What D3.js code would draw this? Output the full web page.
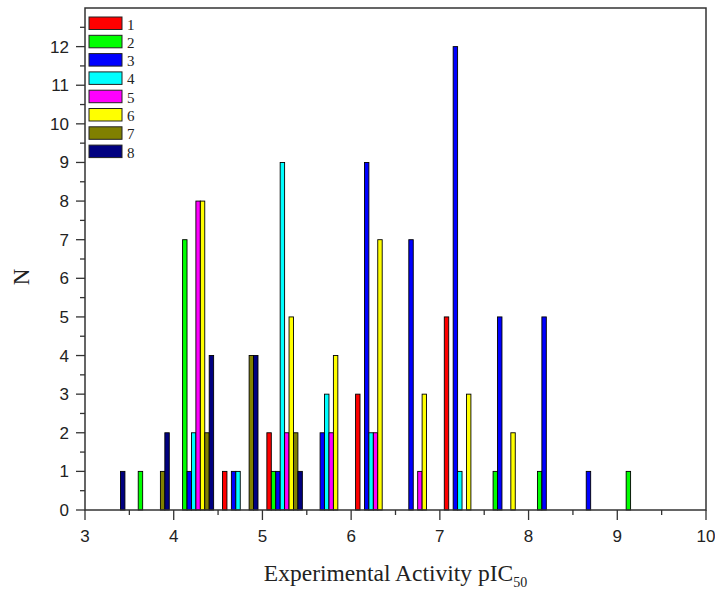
<!DOCTYPE html>
<html>
<head>
<meta charset="utf-8">
<script src="https://cdn.jsdelivr.net/npm/d3@7"></script>
<style>
  body{margin:0;background:#fff;}
  svg{display:block;}
</style>
</head>
<body>
<svg id="hist" width="715" height="590"></svg>
<script>
// bin starts (width 0.5) and counts for each series
var binStarts=[3.0,3.5,4.0,4.5,5.0,5.5,6.0,6.5,7.0,7.5,8.0,8.5,9.0];
var seriesNames=["1","2","3","4","5","6","7","8"];
var seriesColors=["#ff0000","#00ff00","#0000ff","#00ffff","#ff00ff","#ffff00","#808000","#000080"];
var s1=[0,0,0,1,2,0,3,0,5,0,0,0,0];
var s2=[0,1,7,0,1,0,0,0,0,1,1,0,1];
var s3=[0,0,1,1,1,2,9,7,12,5,5,1,0];
var s4=[0,0,2,1,9,3,2,0,1,0,0,0,0];
var s5=[0,0,8,0,2,2,2,1,0,0,0,0,0];
var s6=[0,0,8,0,5,4,7,3,3,2,0,0,0];
var s7=[0,1,2,4,2,0,0,0,0,0,0,0,0];
var s8=[1,2,4,4,1,0,0,0,0,0,0,0,0];
var xTicks=[3,4,5,6,7,8,9,10];
var yTicks=[0,1,2,3,4,5,6,7,8,9,10,11,12];

function histogram(){
    var svg=d3.select("#hist");
    var left=85,right=706,top=8,bottom=510;
    var allSeries=[s1,s2,s3,s4,s5,s6,s7,s8];
    var barStep=0.05;

    var x=d3.scaleLinear().domain([3,10]).range([left,right]);
    var y=d3.scaleLinear().domain([0,13]).range([bottom,top]);

    // flatten into bar records
    var bars=[];
    allSeries.forEach(function(s,i){
        s.forEach(function(v,j){
            if(v>0) bars.push({series:i,start:binStarts[j],value:v});
        });
    });

    svg.selectAll(".bar")
        .data(bars)
        .enter().append("rect")
        .attr("class","bar")
        .attr("x",function(d){return x(d.start+barStep+d.series*barStep);})
        .attr("y",function(d){return y(d.value);})
        .attr("width",x(3+barStep)-x(3))
        .attr("height",function(d){return y(0)-y(d.value);})
        .attr("fill",function(d){return seriesColors[d.series];})
        .attr("stroke","#000")
        .attr("stroke-width",0.9);

    // major + minor ticks, outward
    var xMinor=d3.range(3.5,10,1);
    var yMinor=d3.range(0.5,13,1);
    var g=svg.append("g").attr("stroke","#333").attr("stroke-width",1.3);
    g.selectAll(".xmaj").data(xTicks).enter().append("line")
        .attr("x1",function(d){return x(d);}).attr("x2",function(d){return x(d);})
        .attr("y1",bottom).attr("y2",bottom+10);
    g.selectAll(".xmin").data(xMinor).enter().append("line")
        .attr("x1",function(d){return x(d);}).attr("x2",function(d){return x(d);})
        .attr("y1",bottom).attr("y2",bottom+5);
    g.selectAll(".ymaj").data(yTicks).enter().append("line")
        .attr("y1",function(d){return y(d);}).attr("y2",function(d){return y(d);})
        .attr("x1",left).attr("x2",left-9);
    g.selectAll(".ymin").data(yMinor).enter().append("line")
        .attr("y1",function(d){return y(d);}).attr("y2",function(d){return y(d);})
        .attr("x1",left).attr("x2",left-5);

    // frame
    svg.append("rect")
        .attr("x",left).attr("y",top)
        .attr("width",right-left).attr("height",bottom-top)
        .attr("fill","none").attr("stroke","#333").attr("stroke-width",1.5);

    // tick labels
    svg.selectAll(".xl").data(xTicks).enter().append("text")
        .attr("x",function(d){return x(d);})
        .attr("y",bottom+32)
        .attr("text-anchor","middle")
        .attr("font-family","Liberation Sans, Arial, sans-serif")
        .attr("font-size","17px")
        .attr("fill","#222")
        .text(function(d){return d;});
    svg.selectAll(".yl").data(yTicks).enter().append("text")
        .attr("x",left-16)
        .attr("y",function(d){return y(d)+6;})
        .attr("text-anchor","end")
        .attr("font-family","Liberation Sans, Arial, sans-serif")
        .attr("font-size","17px")
        .attr("fill","#222")
        .text(function(d){return d;});

    // axis titles
    var xt=svg.append("text")
        .attr("x",(left+right)/2)
        .attr("y",581)
        .attr("text-anchor","middle")
        .attr("font-family","Liberation Serif, Times New Roman, serif")
        .attr("font-size","23.5px")
        .attr("fill","#222");
    xt.append("tspan").text("Experimental Activity pIC");
    xt.append("tspan").attr("font-size","14px").attr("dy",6).text("50");

    svg.append("text")
        .attr("transform","translate(29,277) rotate(-90)")
        .attr("text-anchor","middle")
        .attr("font-family","Liberation Serif, Times New Roman, serif")
        .attr("font-size","23px")
        .attr("fill","#222")
        .text("N");

    // legend
    var lg=svg.append("g").attr("transform","translate(89,17)");
    var item=lg.selectAll(".li").data(seriesNames).enter().append("g")
        .attr("transform",function(d,i){return "translate(0,"+(i*18.3)+")";});
    item.append("rect")
        .attr("width",33).attr("height",12.5)
        .attr("fill",function(d,i){return seriesColors[i];})
        .attr("stroke","#222").attr("stroke-width",1);
    item.append("text")
        .attr("x",38).attr("y",12.5)
        .attr("font-family","Liberation Serif, Times New Roman, serif")
        .attr("font-size","15px")
        .attr("fill","#222")
        .text(function(d){return d;});
}
histogram();
</script>
</body>
</html>
